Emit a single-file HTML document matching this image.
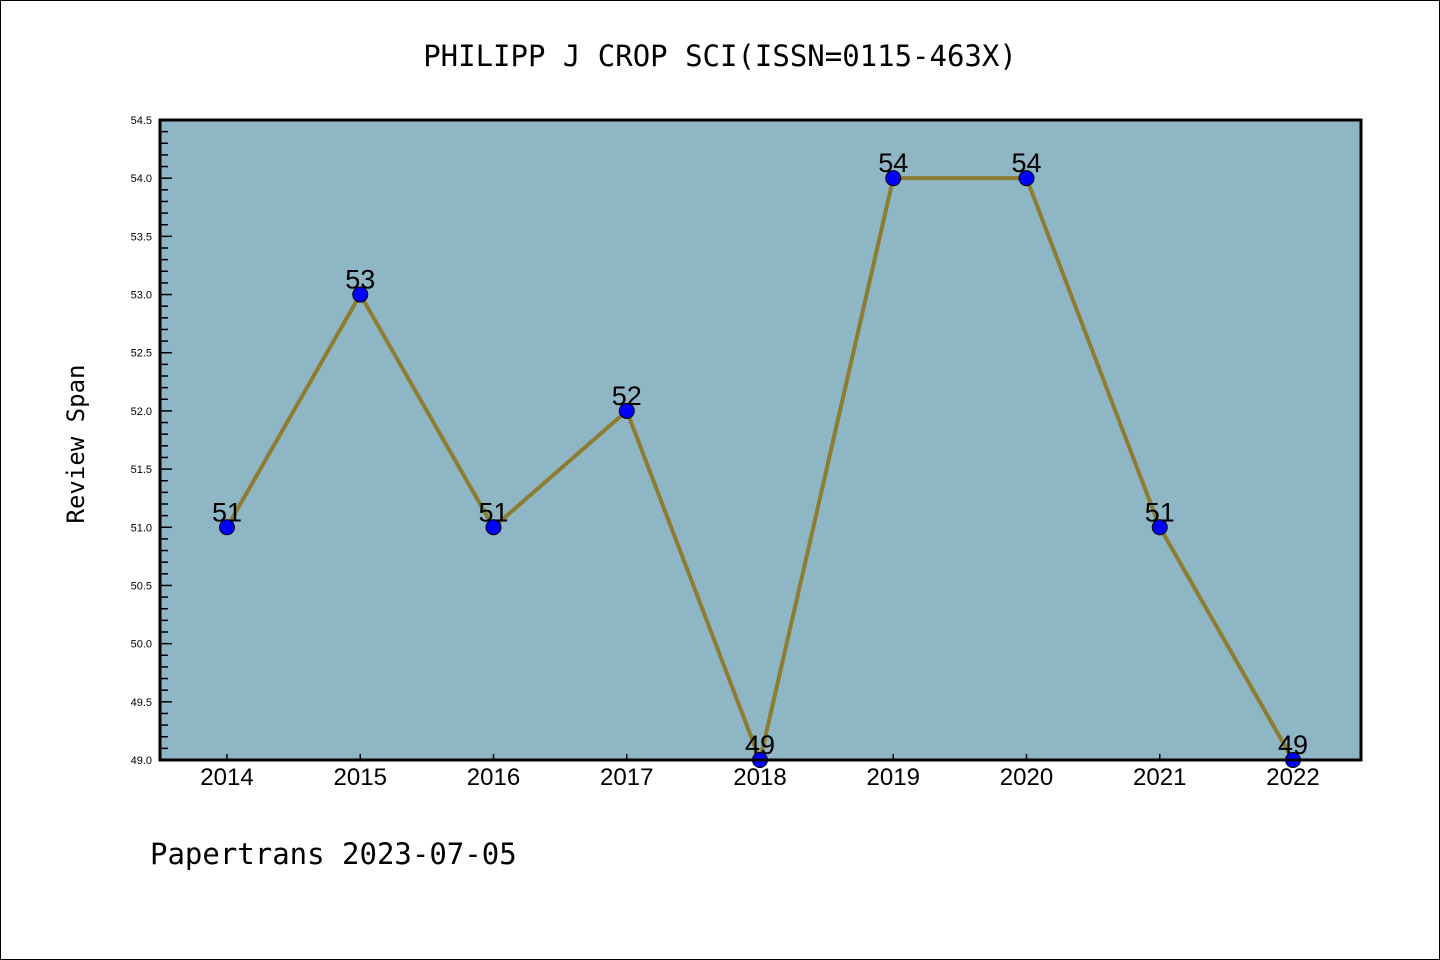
<!DOCTYPE html>
<html><head><meta charset="utf-8"><style>
html,body{margin:0;padding:0;background:#fff;}
svg{display:block;font-family:"Liberation Sans","DejaVu Sans",sans-serif;}
.mono{font-family:"DejaVu Sans Mono","Liberation Mono",monospace;}
</style></head><body>
<svg id="chart" width="1440" height="960" viewBox="0 0 1440 960">
<rect x="0.5" y="0.5" width="1439" height="959" fill="#fff" stroke="#000" stroke-width="1"/>
<text class="mono" x="720" y="66" font-size="29" text-anchor="middle">PHILIPP J CROP SCI(ISSN=0115-463X)</text>
<rect x="160" y="120" width="1201" height="640" fill="#8fb6c4"/>
<g id="yaxis"></g>
<g id="xaxis"></g>
<g id="series"></g>
<rect x="160" y="120" width="1201" height="640" fill="none" stroke="#000" stroke-width="3"/>
<text class="mono" x="0" y="0" font-size="24" text-anchor="middle" transform="translate(84,444) rotate(-90)">Review Span</text>
<text class="mono" x="150" y="864" font-size="29">Papertrans 2023-07-05</text>
</svg>
<script>
const categories = ["2014","2015","2016","2017","2018","2019","2020","2021","2022"];
const values = [51, 53, 51, 52, 49, 54, 54, 51, 49];
const yTicks = ["49.0","49.5","50.0","50.5","51.0","51.5","52.0","52.5","53.0","53.5","54.0","54.5"];

const NS = "http://www.w3.org/2000/svg";
const yMin = 49.0, yMax = 54.5;
const px0 = 160, px1 = 1361, py0 = 760, py1 = 120;
function yS(v){ return py0 - (v - yMin) / (yMax - yMin) * (py0 - py1); }
function xS(i){ return 227 + i * (1293 - 227) / (categories.length - 1); }
function mk(tag, attrs, parent){ const e = document.createElementNS(NS, tag); for (const k in attrs) e.setAttribute(k, attrs[k]); parent.appendChild(e); return e; }

const ya = document.getElementById('yaxis');
for (let k = 0; k <= Math.round((yMax - yMin) * 10); k++) {
  const v = yMin + k / 10, y = yS(v), major = k % 5 === 0;
  const t = mk('line', {x1: px0, x2: px0 + (major ? 12 : 8), y1: y, y2: y, stroke: '#000', 'stroke-width': 1.5}, ya);
  
  
}
yTicks.forEach(s => {
  const y = yS(parseFloat(s));
  const t = mk('text', {x: 152, y: y + 4, 'font-size': 11, 'text-anchor': 'end'}, ya);
  t.textContent = s;
  
  
});
const xa = document.getElementById('xaxis');
categories.forEach((c, i) => {
  const x = xS(i);
  const l = mk('line', {x1: x, x2: x, y1: py0, y2: py0 - 6, stroke: '#000', 'stroke-width': 1.5}, xa);
  
  
  const t = mk('text', {x: x, y: 785, 'font-size': 24, 'text-anchor': 'middle'}, xa);
  t.textContent = c;
  
  
});
const sg = document.getElementById('series');
const pts = values.map((v, i) => xS(i) + ',' + yS(v)).join(' ');
const pl = mk('polyline', {points: pts, fill: 'none', stroke: '#8c7d32', 'stroke-width': 4, 'stroke-linejoin': 'round'}, sg);


values.forEach((v, i) => {
  const c = mk('circle', {cx: xS(i), cy: yS(v), r: 7.5, fill: '#0000ff', stroke: '#000', 'stroke-width': 1}, sg);
  
  
  const t = mk('text', {x: xS(i), y: yS(v) - 6, 'font-size': 27, 'text-anchor': 'middle'}, sg);
  t.textContent = String(v);
  
  
});
</script>
</body></html>
